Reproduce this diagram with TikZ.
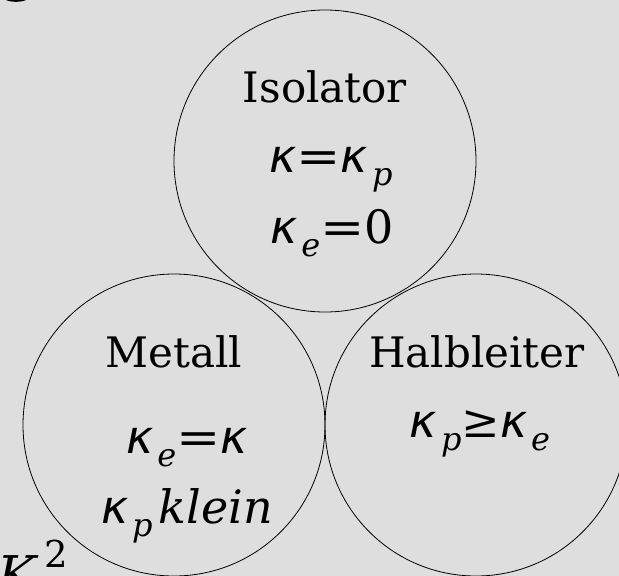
\documentclass[tikz,border=0pt]{standalone}
\usepackage{fontspec}
\setmainfont{DejaVu Serif}
\setsansfont{DejaVu Sans}
\usetikzlibrary{positioning}
\definecolor{bggray}{RGB}{222,222,222}
\newcommand\kap{{\sffamily\itshape κ}}
\newcommand\idx[1]{\kern4pt\raisebox{-13pt}{\fontsize{32}{32}\selectfont\itshape #1}}
\newcommand\eq{\scalebox{1.15}[1]{=}}

\begin{document}
\begin{tikzpicture}[
    x=1pt, y=-1pt,
    phase/.style={
        circle,
        draw,
        line width=0.8pt,
        minimum size=302pt,
        inner sep=0pt
    },
    phasename/.style={
        anchor=base,
        inner sep=0pt,
        font=\fontsize{42}{42}\selectfont
    },
    formula/.style={
        anchor=base,
        inner sep=0pt,
        font=\fontsize{46}{46}\selectfont
    }
]

\fill[bggray] (0,0) rectangle (619,576);
\useasboundingbox (0,0) rectangle (619,576);

% three circles
\node[phase] (isolator) at (325,161) {};
\node[phase] (metall) at (174,425) {};
\node[phase] (halbleiter) at (476,425) {};

\node[phasename] (iso_name) at (325,102) {Isolator};
\node[formula] (iso_f1) at (331,172) {\kap\eq\kap\idx{p}};
\node[formula] (iso_f2) at (332,243) {\kap\idx{e}\eq0};

\node[phasename] (met_name) at (174,367) {Metall};
\node[formula] (met_f1) at (187,453) {\kap\idx{e}\eq\kap};
\node[formula] (met_f2) at (187,523) {\kap\idx{p}\kern6pt{\itshape klein}};

\node[phasename] (hal_name) at (477,367) {Halbleiter};
\node[formula] (hal_f1) at (480,437) {\kap\idx{p}≥\kap\idx{e}};

% cut-off pieces at the margins
\node[formula, anchor=base west, font=\fontsize{52}{52}\selectfont] (ksq) at (-3,593)
    {{\itshape K}\kern8pt\raisebox{26pt}{\fontsize{37}{37}\selectfont 2}};
\fill (6,0) .. controls (11,2.4) and (21,2.4) .. (26,0) -- cycle;

\end{tikzpicture}
\end{document}
